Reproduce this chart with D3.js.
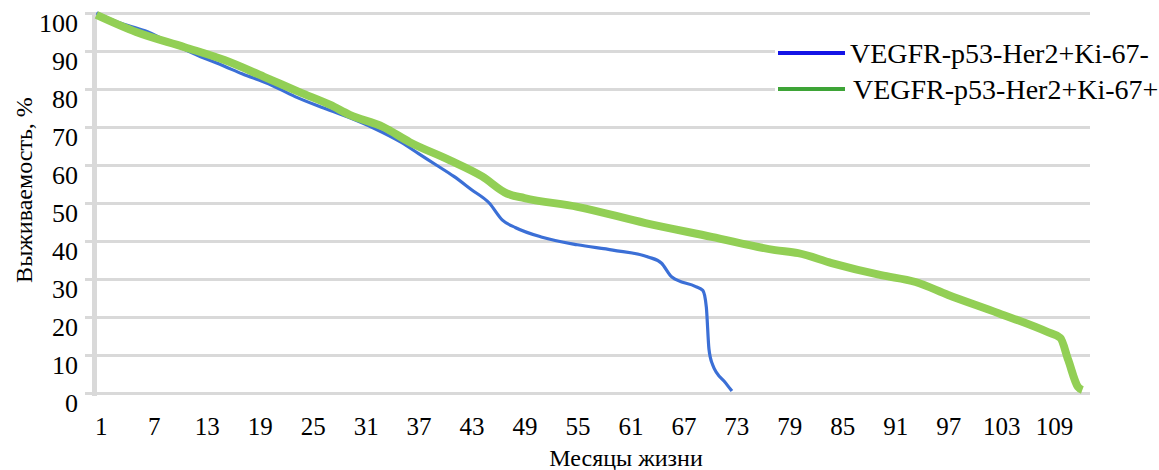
<!DOCTYPE html>
<html>
<head>
<meta charset="utf-8">
<script src="https://cdn.jsdelivr.net/npm/d3@7"></script>
<style>
  body { margin: 0; background: #fff; }
  svg { display: block; }
</style>
</head>
<body>
<svg class="svg-chart"></svg>
<script>
// survival curves, values (month, % alive)
var monthsNeg = [0.5, 3, 6, 9, 12, 15, 17, 20, 23, 26, 29, 32, 35, 37, 39, 41, 43, 45, 46.5, 48, 51, 55, 59, 63, 64.5, 65.7, 68.4, 69.2, 69.6, 69.9, 70.3, 71.8, 72.5];
var survNeg  = [100, 97.5, 95.3, 92, 88.8, 86, 84, 81.4, 78, 75.2, 72.6, 69.6, 66, 63, 60, 57, 53.5, 50, 45.5, 43.5, 41, 39, 37.6, 35.8, 34.2, 30.5, 28, 27, 22.6, 11.5, 7.5, 2.6, 0.5];

var monthsPos = [0.5, 5, 10.5, 15, 19.5, 23.7, 27, 29.2, 33, 36, 40.5, 44.2, 47, 49, 55, 62.7, 70.2, 77.4, 80, 83.8, 89.4, 93.3, 97, 102.7, 108.3, 109.7, 110.6, 111.7, 112.2];
var survPos  = [99.5, 95, 91, 87.6, 83.2, 79, 75.8, 73.2, 70, 66, 61.3, 57, 52.5, 51.3, 49, 44.7, 41.1, 37.6, 36.8, 34.2, 31, 29.2, 25.8, 21, 16, 14.5, 8.7, 1.6, 0.8];

var seriesNames = ["VEGFR-p53-Her2+Ki-67-", "VEGFR-p53-Her2+Ki-67+"];
var xTicks = [1, 7, 13, 19, 25, 31, 37, 43, 49, 55, 61, 67, 73, 79, 85, 91, 97, 103, 109];
var yTicks = [0, 10, 20, 30, 40, 50, 60, 70, 80, 90, 100];

var W = 1159, H = 470;
var margin = {top: 13, right: 72, bottom: 77, left: 92};
var plotRight = W - margin.right;
var plotBottom = H - margin.bottom;
var serif = "'Times New Roman', 'Liberation Serif', serif";

var svg = d3.select(".svg-chart")
    .attr("width", W)
    .attr("height", H);

var x = d3.scaleLinear()
    .domain([0, 112.5])
    .range([margin.left, plotRight - 2]);

var y = d3.scaleLinear()
    .domain([0, 100])
    .range([plotBottom, margin.top]);

var gridColor = "#d9d9d9";

// horizontal gridlines + y labels
var yAxis = d3.axisLeft(y)
    .tickValues(yTicks)
    .tickSize(-(plotRight + 3 - 85))
    .tickPadding(7);

var gy = svg.append("g")
    .attr("transform", "translate(85,0)")
    .call(yAxis);
gy.select(".domain").remove();
gy.selectAll("line")
    .style("stroke", gridColor)
    .style("stroke-width", 3);
gy.selectAll("text")
    .attr("y", 10)
    .style("font-family", serif)
    .style("font-size", "26px")
    .style("fill", "#000");

// left axis line
svg.append("line")
    .attr("x1", 94.5).attr("x2", 94.5)
    .attr("y1", y(100)).attr("y2", y(0) + 3)
    .style("stroke", gridColor)
    .style("stroke-width", 5);

// x labels
var xAxis = d3.axisBottom(x)
    .tickValues(xTicks)
    .tickSize(0);
var gx = svg.append("g")
    .attr("transform", "translate(0," + plotBottom + ")")
    .call(xAxis);
gx.select(".domain").remove();
gx.selectAll("text")
    .attr("y", 42)
    .attr("dy", 0)
    .style("font-family", serif)
    .style("font-size", "25px")
    .style("fill", "#000");

// lines
var line = d3.line()
    .x(function(d) { return x(d[0]); })
    .y(function(d) { return y(d[1]); })
    .curve(d3.curveMonotoneX);

var negData = monthsNeg.map(function(m, i) { return [m, survNeg[i]]; });
var posData = monthsPos.map(function(m, i) { return [m, survPos[i]]; });

svg.append("path")
    .datum(negData)
    .attr("d", line)
    .style("fill", "none")
    .style("stroke", "#3b6fd6")
    .style("stroke-width", 3.2)
    .style("stroke-linejoin", "round");

svg.append("path")
    .datum(posData)
    .attr("d", line)
    .style("fill", "none")
    .style("stroke", "#92cf55")
    .style("stroke-width", 8)
    .style("stroke-linejoin", "round");

// legend (white box sits over the gridlines)
var legend = svg.append("g");
legend.append("rect")
    .attr("x", 775).attr("y", 32)
    .attr("width", W - 775).attr("height", 76)
    .style("fill", "#fff");

var legendColors = ["#1414e6", "#3ea437"];
var legendY = [53, 89];
seriesNames.forEach(function(name, i) {
  legend.append("line")
      .attr("x1", 778).attr("x2", 845)
      .attr("y1", legendY[i]).attr("y2", legendY[i])
      .style("stroke", legendColors[i])
      .style("stroke-width", 4);
  legend.append("text")
      .attr("x", 850 + i * 3)
      .attr("y", legendY[i] + 10)
      .style("font-family", serif)
      .style("font-size", "28px")
      .style("fill", "#000")
      .text(name);
});

// axis titles
svg.append("text")
    .attr("transform", "translate(32,190) rotate(-90)")
    .attr("text-anchor", "middle")
    .style("font-family", serif)
    .style("font-size", "24px")
    .text("Выживаемость, %");

svg.append("text")
    .attr("x", 626)
    .attr("y", 466)
    .attr("text-anchor", "middle")
    .style("font-family", serif)
    .style("font-size", "24px")
    .text("Месяцы жизни");
</script>
</body>
</html>
